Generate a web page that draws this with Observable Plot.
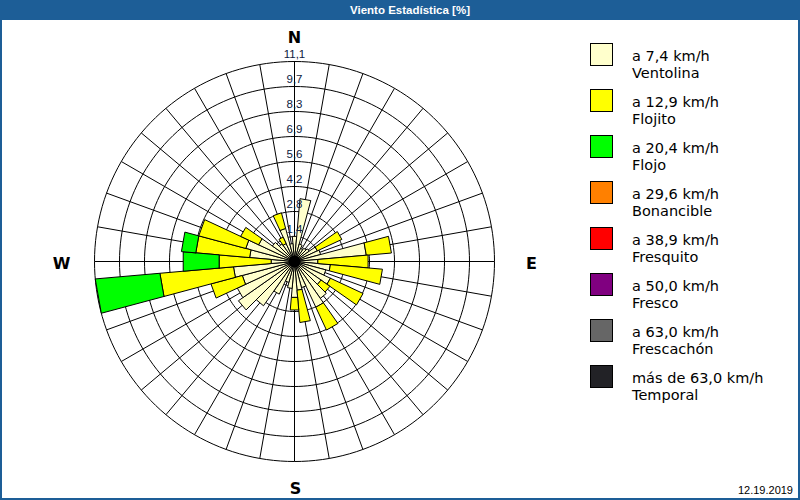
<!DOCTYPE html>
<html><head><meta charset="utf-8">
<script src="https://cdn.jsdelivr.net/npm/d3@7"></script>
<script src="https://cdn.jsdelivr.net/npm/@observablehq/plot@0.6"></script>
<style>
html,body{margin:0;padding:0;background:#fff;}
#frame{position:relative;width:800px;height:500px;overflow:hidden;background:#fff;}
#title{position:absolute;left:0;top:0;width:820px;height:20px;background:#1d5e97;color:#fff;font:bold 11.5px "Liberation Sans",sans-serif;line-height:20px;text-align:center;}
.edge{position:absolute;background:#1d5e97;}
#chart{position:absolute;left:0;top:21px;}
#legend{position:absolute;left:590px;top:43px;font-family:"DejaVu Sans",sans-serif;font-size:14.5px;color:#000;}
.item{position:relative;height:46px;}
.sw{position:absolute;left:0;top:0;width:21px;height:21px;border:1px solid #000;}
.lab{position:absolute;left:42px;top:5px;line-height:17px;white-space:nowrap;}
#date{position:absolute;right:7px;top:484px;font:11px "Liberation Sans",sans-serif;color:#000;}
</style></head>
<body>
<div id="frame">
  <div id="title">Viento Estadística [%]</div>
  <div class="edge" style="left:0;top:0;width:2px;height:500px"></div>
  <div class="edge" style="right:0;top:0;width:2px;height:500px"></div>
  <div class="edge" style="left:0;bottom:0;width:800px;height:2px"></div>
  <div id="chart"></div>
  <div id="legend"></div>
  <div id="date">12.19.2019</div>
</div>
<script>
// ---- data ----
const directions = [0,10,20,30,40,50,60,70,80,90,100,110,120,130,140,150,160,170,180,190,200,210,220,230,240,250,260,270,280,290,300,310,320,330,340,350];
const ventolina = [1.4,3.5,1.0,0.8,0.9,1.0,1.4,1.5,4.0,1.3,2.0,1.8,2.2,1.8,2.5,2.8,1.5,1.6,2.0,1.5,1.2,2.0,3.0,3.8,3.5,3.0,3.4,1.3,2.5,2.8,2.2,1.5,1.2,1.1,1.9,1.0];
const flojito   = [0,0,0,0,0,0,1.5,0,1.4,2.8,2.9,0,2.0,0.6,0,1.4,0,1.8,0.7,0,0,0,0,0,0,1.8,4.1,2.9,3.0,2.7,1.1,0,0,0.4,0.9,0];
const flojo     = [0,0,0,0,0,0,0,0,0,0,0,0,0,0,0,0,0,0,0,0,0,0,0,0,0,0,3.6,2.0,0.8,0,0,0,0,0,0,0];
const classSpeeds = ["a 7,4 km/h","a 12,9 km/h","a 20,4 km/h","a 29,6 km/h","a 38,9 km/h","a 50,0 km/h","a 63,0 km/h","más de 63,0 km/h"];
const classNames  = ["Ventolina","Flojito","Flojo","Bonancible","Fresquito","Fresco","Frescachón","Temporal"];
const classColors = ["#ffffcc","#ffff00","#00ff00","#ff8000","#ff0000","#800080","#666666","#222226"];
const ringLabels = ["1,4","2,8","4,2","5,6","6,9","8,3","9,7","11,1"];
const RMAX = 11.1;
const cardinals = [{t:"N",deg:0},{t:"E",deg:90},{t:"S",deg:180},{t:"W",deg:270}];

// ---- geometry in data units ----
const series = [ventolina, flojito, flojo];
const rad = d => d*Math.PI/180;
const pt = (r,deg) => [r*Math.sin(rad(deg)), r*Math.cos(rad(deg))];
const ringValues = ringLabels.map((_,k)=> (k+1)*RMAX/ringLabels.length);
const ringPts = ringValues.flatMap((v,k)=> d3.range(0,361,2).map(a=>({k, x:pt(v,a)[0], y:pt(v,a)[1]})));
const polys = series.map(()=>[]);
directions.forEach((dir,i)=>{
  let r0 = 0;
  series.forEach((s,j)=>{
    const v = s[i];
    if (v>0){
      const r1 = r0+v;
      const pts = r0===0 ? [[0,0], pt(r1,dir-5), pt(r1,dir+5)]
                         : [pt(r0,dir-5), pt(r1,dir-5), pt(r1,dir+5), pt(r0,dir+5)];
      pts.push(pts[0]);
      pts.forEach(p=>polys[j].push({id:dir+"-"+j, x:p[0], y:p[1]}));
      r0 = r1;
    }
  });
});

const cardOff = {N:[0,-24], E:[37,2], S:[1,27], W:[-33,2]};

const chart = Plot.plot({
  width: 580, height: 477,
  marginLeft: 94, marginRight: 86, marginTop: 40, marginBottom: 37,
  x: {domain:[-RMAX,RMAX], axis:null},
  y: {domain:[-RMAX,RMAX], axis:null},
  style: {background:"transparent", overflow:"visible"},
  marks: [
    Plot.line(ringPts, {x:"x", y:"y", z:"k", stroke:"#000", strokeWidth:1}),
    Plot.link(directions, {x1:()=>0, y1:()=>0, x2:d=>pt(RMAX,d)[0], y2:d=>pt(RMAX,d)[1], stroke:"#000", strokeWidth:1}),
    ...polys.map((p,j)=> Plot.line(p, {x:"x", y:"y", z:"id", fill:classColors[j], stroke:"#000", strokeWidth:1, strokeLinejoin:"miter"})),
    Plot.dot([0], {x:()=>0, y:()=>0, r:6, fill:"#000"}),
    Plot.text(ringLabels, {x:()=>0, y:(d,i)=>ringValues[i], text:d=>d, dy:-7, fontSize:11.5, fill:"#0d1a40", fontFamily:"Liberation Sans"}),
    ...cardinals.map(c=> Plot.text([c], {x:d=>pt(RMAX,d.deg)[0], y:d=>pt(RMAX,d.deg)[1], text:"t", dx:cardOff[c.t][0], dy:cardOff[c.t][1], fontSize:16, fontWeight:"bold", fill:"#000", fontFamily:"DejaVu Sans"}))
  ]
});
document.getElementById("chart").appendChild(chart);

const lg = document.getElementById("legend");
classSpeeds.forEach((s,i)=>{
  const it = document.createElement("div"); it.className="item";
  it.innerHTML = `<div class="sw" style="background:${classColors[i]}"></div><div class="lab">${s}<br>${classNames[i]}</div>`;
  lg.appendChild(it);
});
</script>
</body></html>
